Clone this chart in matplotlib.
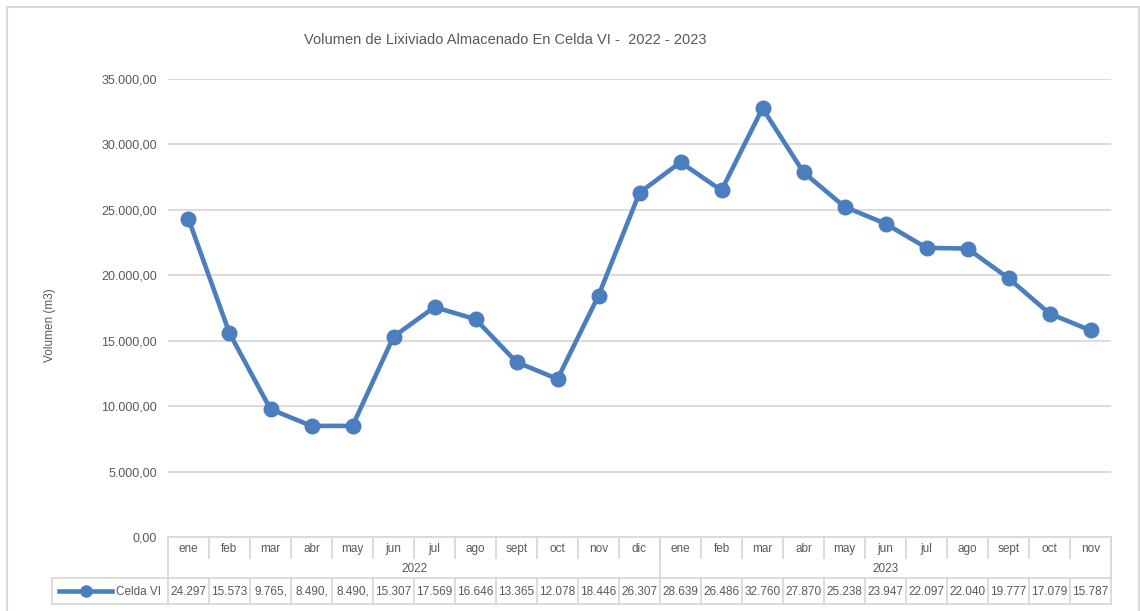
import matplotlib
matplotlib.use("Agg")
import matplotlib.pyplot as plt
from matplotlib.lines import Line2D
from matplotlib.ticker import FuncFormatter
from matplotlib.transforms import blended_transform_factory

W, H = 1140, 611

months = ["ene", "feb", "mar", "abr", "may", "jun", "jul", "ago", "sept", "oct", "nov", "dic",
          "ene", "feb", "mar", "abr", "may", "jun", "jul", "ago", "sept", "oct", "nov"]
years = ["2022", "2023"]
year_counts = [12, 11]
volumen = [24297, 15573, 9765, 8490, 8490, 15307, 17569, 16646, 13365, 12078, 18446, 26307,
           28639, 26486, 32760, 27870, 25238, 23947, 22097, 22040, 19777, 17079, 15787]
table_labels = ["24.297", "15.573", "9.765,", "8.490,", "8.490,", "15.307", "17.569", "16.646",
                "13.365", "12.078", "18.446", "26.307", "28.639", "26.486", "32.760", "27.870",
                "25.238", "23.947", "22.097", "22.040", "19.777", "17.079", "15.787"]
series_name = "Celda VI"

plt.rcParams["font.family"] = ["Liberation Sans", "DejaVu Sans"]
TXT = "#595959"
GRID = "#D9D9D9"
BLUE = "#4A7EBE"

fig = plt.figure(figsize=(W / 100, H / 100), dpi=100)


def fy(py):
    return (H - py) / H


def fx(px):
    return px / W


def es_fmt(v, pos=None):
    s = f"{v:,.2f}"
    return s.replace(",", "X").replace(".", ",").replace("X", ".")


# outer chart frame
fig.patches.append(plt.Rectangle((fx(7), fy(640)), fx(1132), fy(7) - fy(640),
                                 transform=fig.transFigure, fill=False,
                                 edgecolor=GRID, lw=1.5))

ax = fig.add_axes([fx(168), fy(537), fx(1111) - fx(168), fy(79) - fy(537)])
n = len(volumen)
x = list(range(n))
ax.plot(x, volumen, color=BLUE, lw=3.3, marker="o", ms=10.5, solid_joinstyle="round", zorder=3)
ax.set_xlim(-0.5, n - 0.5)
ax.set_ylim(0, 35000)
ax.set_yticks(range(0, 35001, 5000))
ax.yaxis.set_major_formatter(FuncFormatter(es_fmt))
ax.tick_params(axis="y", length=0, pad=8, labelsize=9, labelcolor=TXT)
ax.set_xticks([])
ax.grid(axis="y", color=GRID, lw=1.3)
ax.set_axisbelow(True)
for s in ax.spines.values():
    s.set_visible(False)

fig.text(fx(50), fy(325), "Volumen (m3)", rotation=90, ha="center", va="center",
         fontsize=8.5, color=TXT)
fig.text(fx(505), fy(40), "Volumen de Lixiviado Almacenado En Celda VI -  2022 - 2023",
         ha="center", va="center", fontsize=10.5, color=TXT)

# data table under the axis
tr = blended_transform_factory(ax.transData, fig.transFigure)


def hline(x0, x1, py, t=tr):
    fig.add_artist(Line2D([x0, x1], [fy(py), fy(py)], transform=t, color=GRID, lw=1.3))


def vline(xx, p0, p1, t=tr):
    fig.add_artist(Line2D([xx, xx], [fy(p0), fy(p1)], transform=t, color=GRID, lw=1.3))


left, right = -0.5, n - 0.5
hline(left, right, 537)
hline(left, right, 578)
hline(left, right, 604)
for i in range(n + 1):
    vline(i - 0.5, 537, 558)
    vline(i - 0.5, 578, 604)
bounds = [0]
for c in year_counts:
    bounds.append(bounds[-1] + c)
for b in bounds:
    vline(b - 0.5, 537, 578)
for i, m in enumerate(months):
    fig.text(i, fy(552), m, transform=tr, ha="center", va="baseline", fontsize=8.5, color=TXT)
for k, yr in enumerate(years):
    c = (bounds[k] + bounds[k + 1] - 1) / 2
    fig.text(c, fy(572), yr, transform=tr, ha="center", va="baseline", fontsize=8.5, color=TXT)
for i, lab in enumerate(table_labels):
    fig.text(i, fy(595), lab, transform=tr, ha="center", va="baseline", fontsize=8.5, color=TXT)

# legend cell
ft = fig.transFigure
fig.add_artist(Line2D([fx(52), fx(168)], [fy(578), fy(578)], transform=ft, color=GRID, lw=1.3))
fig.add_artist(Line2D([fx(52), fx(168)], [fy(604), fy(604)], transform=ft, color=GRID, lw=1.3))
fig.add_artist(Line2D([fx(52), fx(52)], [fy(578), fy(604)], transform=ft, color=GRID, lw=1.3))
fig.add_artist(Line2D([fx(59), fx(112)], [fy(591), fy(591)], transform=ft, color=BLUE, lw=3.3))
fig.add_artist(Line2D([fx(86)], [fy(591)], transform=ft, color=BLUE, marker="o", ms=8, lw=0))
fig.text(fx(116), fy(595), series_name, ha="left", va="baseline", fontsize=8.5, color=TXT)

fig.savefig("out.png", dpi=100)
